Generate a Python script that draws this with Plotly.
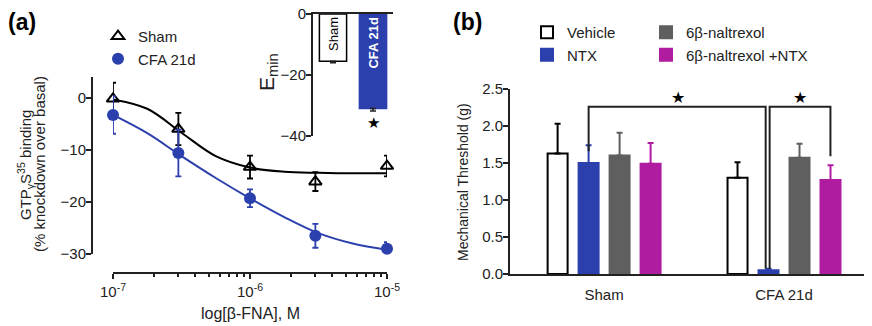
import plotly.graph_objects as go

# The page body adds an 8 px margin, so the figure is drawn 8 px smaller
# and all layout positions are given in window pixels shifted by 8 px.
OFF = 8
W, H = 872 - OFF, 326 - OFF

# ---------------- Panel (a) data ----------------
conc = [1e-7, 3e-7, 1e-6, 3e-6, 1e-5]
sham_binding = [-0.2, -6.0, -13.3, -16.1, -13.1]
sham_err = [3.1, 3.1, 2.2, 1.8, 2.0]
cfa_binding = [-3.3, -10.6, -19.3, -26.5, -29.0]
cfa_err = [3.6, 4.5, 1.7, 2.3, 1.3]

fit_logx = [-7.0, -6.75, -6.5, -6.25, -6.0, -5.75, -5.5, -5.25, -5.0]
sham_fit = [-0.3, -2.1, -6.7, -11.2, -13.4, -14.2, -14.4, -14.5, -14.5]
cfa_fit = [-3.3, -6.8, -11.2, -15.4, -19.3, -22.9, -26.0, -28.0, -29.2]

inset_groups = ["Sham", "CFA 21d"]
emin = [-15.5, -31.0]
emin_err = [0.5, 0.8]

x_tickvals = [1e-7, 1e-6, 1e-5]
x_ticktext = ["10<sup>-7</sup>", "10<sup>-6</sup>", "10<sup>-5</sup>"]
x_minor = [2e-7, 3e-7, 4e-7, 5e-7, 6e-7, 7e-7, 8e-7, 9e-7,
           2e-6, 3e-6, 4e-6, 5e-6, 6e-6, 7e-6, 8e-6, 9e-6]

# ---------------- Panel (b) data ----------------
groups = ["Sham", "CFA 21d"]
vehicle = [1.63, 1.30]
vehicle_err = [0.40, 0.21]
ntx = [1.50, 0.05]
ntx_err = [0.24, 0.02]
nalt = [1.60, 1.57]
nalt_err = [0.31, 0.19]
nalt_ntx = [1.49, 1.27]
nalt_ntx_err = [0.28, 0.20]

# ---------------- styling ----------------
FONT = "Arial, Liberation Sans, Helvetica, sans-serif"
INK = "#222222"
BLUE = "#2c40ad"
GRAY = "#5f5f5f"
MAGENTA = "#b01ca0"


def px(xp):
    return (xp - OFF) / W


def py(yp):
    return 1 - (yp - OFF) / H


fig = go.Figure()

# fitted curves
fig.add_trace(go.Scatter(x=[10 ** v for v in fit_logx], y=sham_fit, mode="lines",
                         line=dict(color="black", width=2, shape="spline", smoothing=1),
                         showlegend=False, hoverinfo="skip", xaxis="x", yaxis="y"))
fig.add_trace(go.Scatter(x=[10 ** v for v in fit_logx], y=cfa_fit, mode="lines",
                         line=dict(color=BLUE, width=2, shape="spline", smoothing=1),
                         showlegend=False, hoverinfo="skip", xaxis="x", yaxis="y"))
# data points
fig.add_trace(go.Scatter(x=conc, y=sham_binding, mode="markers", name="Sham",
                         marker=dict(symbol="triangle-up-open", size=11, color="black",
                                     line=dict(width=2, color="black")),
                         error_y=dict(type="data", array=sham_err, color="black",
                                      thickness=1.8, width=3),
                         cliponaxis=False, xaxis="x", yaxis="y", legend="legend"))
fig.add_trace(go.Scatter(x=conc, y=cfa_binding, mode="markers", name="CFA 21d",
                         marker=dict(symbol="circle", size=12, color=BLUE),
                         error_y=dict(type="data", array=cfa_err, color=BLUE,
                                      thickness=1.8, width=3),
                         cliponaxis=False, xaxis="x", yaxis="y", legend="legend"))

# inset E_min bars
inset_text = [inset_groups[0], "<b>" + inset_groups[1] + "</b>"]
fig.add_trace(go.Bar(x=inset_groups, y=emin, width=0.68,
                     marker=dict(color=["white", BLUE], line=dict(color=["black", BLUE], width=1.5)),
                     error_y=dict(type="data", symmetric=False, array=[0, 0], arrayminus=emin_err,
                                  color=INK, thickness=1.5, width=3),
                     text=inset_text, textposition="inside", insidetextanchor="start",
                     textangle=-90,
                     textfont=dict(family=FONT, size=13, color=["black", "white"]),
                     showlegend=False, hoverinfo="skip", xaxis="x2", yaxis="y2"))

# panel (b) bars
bar_specs = [
    ("Vehicle", vehicle, vehicle_err, "white", "black", "black", "legend2"),
    ("NTX", ntx, ntx_err, BLUE, BLUE, BLUE, "legend2"),
    ("6β-naltrexol", nalt, nalt_err, GRAY, GRAY, GRAY, "legend3"),
    ("6β-naltrexol +NTX", nalt_ntx, nalt_ntx_err, MAGENTA, MAGENTA, MAGENTA, "legend3"),
]
for name, vals, errs, fill, edge, ecol, leg in bar_specs:
    fig.add_trace(go.Bar(x=groups, y=vals, name=name,
                         marker=dict(color=fill, line=dict(color=edge, width=2)),
                         error_y=dict(type="data", symmetric=False, array=errs,
                                      arrayminus=[0] * len(errs), color=ecol,
                                      thickness=2, width=3),
                         xaxis="x3", yaxis="y3", legend=leg))

axis_common = dict(showline=True, linecolor=INK, linewidth=2, ticks="outside",
                   tickcolor=INK, tickwidth=2, ticklen=5, showgrid=False, zeroline=False,
                   automargin=False,
                   tickfont=dict(family=FONT, size=15, color=INK))

fig.update_layout(
    template="none",
    width=W, height=H, autosize=False,
    margin=dict(l=0, r=0, t=0, b=0, pad=0),
    paper_bgcolor="white", plot_bgcolor="white",
    font=dict(family=FONT, color=INK, size=15),
    barmode="group", bargap=0.311, bargroupgap=0.355,
    xaxis=dict(axis_common, type="log", domain=[px(113), px(387)], range=[-7, -5],
               anchor="free", position=py(273),
               tickmode="array", tickvals=x_tickvals, ticktext=x_ticktext,
               minor=dict(tickmode="array", tickvals=x_minor, ticks="outside",
                          ticklen=3, tickwidth=1.5, tickcolor=INK)),
    yaxis=dict(axis_common, domain=[py(254), py(77)], range=[-30, 4],
               anchor="free", position=px(92), ticklabelstandoff=-3,
               tickmode="array", tickvals=[-30, -20, -10, 0]),
    xaxis2=dict(axis_common, domain=[px(313), px(393)], range=[-0.5, 1.5],
                anchor="y2", side="top", ticks="", showticklabels=False),
    yaxis2=dict(axis_common, domain=[py(136), py(14)], range=[-40, 0],
                anchor="x2", ticklabelstandoff=-3, ticklabeloverflow="allow",
                tickmode="array", tickvals=[-40, -20, 0]),
    xaxis3=dict(axis_common, domain=[px(510), px(872)], range=[-0.523, 1.489],
                anchor="y3", ticks="", ticklabelstandoff=6),
    yaxis3=dict(axis_common, domain=[py(274), py(89)], range=[0, 2.5],
                anchor="x3", ticklabelstandoff=-3,
                tickmode="array", tickvals=[0, 0.5, 1.0, 1.5, 2.0, 2.5],
                tickformat=".1f"),
    legend=dict(x=px(98), y=py(20), xanchor="left", yanchor="top",
                bgcolor="rgba(0,0,0,0)", font=dict(family=FONT, size=15, color=INK)),
    legend2=dict(x=px(527), y=py(16), xanchor="left", yanchor="top",
                 bgcolor="rgba(0,0,0,0)", font=dict(family=FONT, size=15, color=INK)),
    legend3=dict(x=px(646), y=py(16), xanchor="left", yanchor="top",
                 bgcolor="rgba(0,0,0,0)", font=dict(family=FONT, size=15, color=INK)),
)

# significance brackets in panel (b)
br = dict(color=INK, width=2)
slot = 0.172
fig.add_shape(type="path", xref="x3", yref="y3", line=br,
              path=f"M {0 - slot/2},1.66 L {0 - slot/2},2.26 L {1 - slot/2 - 0.016},2.26 "
                   f"L {1 - slot/2 - 0.016},0.07")
fig.add_shape(type="path", xref="x3", yref="y3", line=br,
              path=f"M {1 - slot/2 + 0.006},0.07 L {1 - slot/2 + 0.006},2.26 "
                   f"L {1 + 1.5*slot},2.26 L {1 + 1.5*slot},1.59")

annotations = [
    dict(text="<b>(a)</b>", x=px(6), y=py(22), xanchor="left", yanchor="middle",
         font=dict(size=23, color="black")),
    dict(text="<b>(b)</b>", x=px(451), y=py(22), xanchor="left", yanchor="middle",
         font=dict(size=23, color="black")),
    dict(text="GTP<sub>γ</sub>S<sup>35</sup> binding", x=px(25), y=py(165),
         textangle=-90, xanchor="center", yanchor="middle", font=dict(size=15)),
    dict(text="(% knockdown over basal)", x=px(39), y=py(164),
         textangle=-90, xanchor="center", yanchor="middle", font=dict(size=15)),
    dict(text="log[β-FNA], M", x=px(250), y=py(313), xanchor="center", yanchor="middle",
         font=dict(size=16)),
    dict(text="E<sub>min</sub>", x=px(268), y=py(72), textangle=-90,
         xanchor="center", yanchor="middle", font=dict(size=21)),
    dict(text="Mechanical Threshold (g)", x=px(463), y=py(182), textangle=-90,
         xanchor="center", yanchor="middle", font=dict(size=14)),
    dict(text="★", x=1, y=-35.5, xref="x2", yref="y2",
         font=dict(size=15, color="black")),
    dict(text="★", x=0.41, y=2.38, xref="x3", yref="y3",
         font=dict(size=16, color="black")),
    dict(text="★", x=1.09, y=2.38, xref="x3", yref="y3",
         font=dict(size=16, color="black")),
]
for a in annotations:
    a.setdefault("xref", "paper")
    a.setdefault("yref", "paper")
    a["showarrow"] = False
    fig.add_annotation(**a)

fig.write_html("out.html")
